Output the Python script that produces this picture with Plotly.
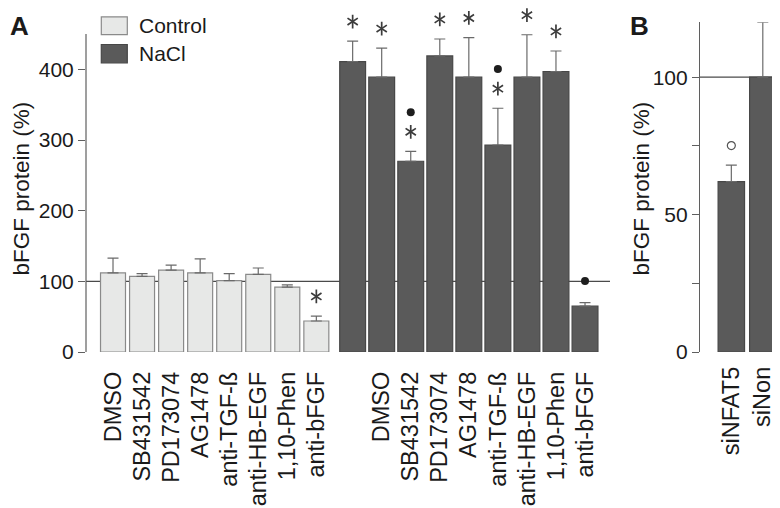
import plotly.graph_objects as go

# ---------------- data ----------------
treatments = ["DMSO", "SB431542", "PD173074", "AG1478", "anti-TGF-ß",
              "anti-HB-EGF", "1,10-Phen", "anti-bFGF"]
control_mean = [112, 107, 116, 112, 101, 110, 92, 44]
control_err = [21, 4, 7, 20, 10, 9, 3, 7]
control_star = [0, 0, 0, 0, 0, 0, 0, 1]

nacl_labels = [""] + treatments
nacl_mean = [411, 389, 270, 419, 389, 293, 389, 397, 65]
nacl_err = [29, 41, 14, 24, 56, 52, 60, 29, 5]
nacl_star = [1, 1, 1, 1, 1, 1, 1, 1, 0]
nacl_dot = [0, 0, 1, 0, 0, 1, 0, 0, 1]

b_labels = ["siNFAT5", "siNon"]
b_mean = [62, 100]
b_err = [6, 20]
b_circle = [1, 0]

a_ticks = [0, 100, 200, 300, 400]
b_ticks = [0, 25, 50, 75, 100]
b_ticktext = ["0", "", "50", "", "100"]

# ---------------- layout geometry ----------------
W, H = 780, 508
Y0_PIX = 351.7                      # pixel row of value 0 (both panels)
A_AXIS_MAX = 450                    # drawn extent of panel A axis line
A_SCALE = (Y0_PIX - 26.6) / A_AXIS_MAX   # px per unit
A_RANGE_MAX = 482                   # room for marks above the axis end
A_TOP_PIX = Y0_PIX - A_RANGE_MAX * A_SCALE
B_TOP_PIX, B_MAX = 14.5, 120
B_SCALE = (Y0_PIX - B_TOP_PIX) / B_MAX

GAP = 8.25
x_ctrl = list(range(len(control_mean)))
x_nacl = [GAP + i for i in range(len(nacl_mean))]
x_b = list(range(len(b_mean)))

FONT = "Liberation Sans, Arial, Helvetica, sans-serif"
CTRL_FILL = "#e7e8e7"
CTRL_LINE = "#8a8a8a"
NACL_FILL = "#5a5a5a"
NACL_LINE = "#474747"
ERR_COLOR = "#6a6a6a"
AXIS_COLOR = "#5f5f5f"
TXT = "#1a1a1a"
STAR_COLOR = "#3c3c3c"

fig = go.Figure()

def bars(x, y, err, fill, line, width, xa, ya, name):
    fig.add_trace(go.Bar(
        x=x, y=y, width=width, name=name,
        marker=dict(color=fill, line=dict(color=line, width=1.2)),
        error_y=dict(type="data", symmetric=False, array=err,
                     arrayminus=[0] * len(err), color=ERR_COLOR,
                     thickness=1.2, width=5.5),
        xaxis=xa, yaxis=ya, showlegend=False, cliponaxis=False))

bars(x_ctrl, control_mean, control_err, CTRL_FILL, CTRL_LINE, 0.86, "x", "y", "Control")
bars(x_nacl, nacl_mean, nacl_err, NACL_FILL, NACL_LINE, 0.89, "x", "y", "NaCl")
bars(x_b, b_mean, b_err, NACL_FILL, NACL_LINE, 0.84, "x2", "y2", "NaCl")

# ---------------- significance marks ----------------
star_x, star_y = [], []
dot_x, dot_y = [], []
for xi, m, e, s in zip(x_ctrl, control_mean, control_err, control_star):
    if s:
        star_x.append(xi); star_y.append(m + e + 20 / A_SCALE)
for xi, m, e, s, d in zip(x_nacl, nacl_mean, nacl_err, nacl_star, nacl_dot):
    if s:
        star_x.append(xi); star_y.append(m + e + 20 / A_SCALE)
    if d:
        dot_x.append(xi); dot_y.append(m + e + (40 if s else 22) / A_SCALE)

circ_x, circ_y = [], []
for xi, m, e, c in zip(x_b, b_mean, b_err, b_circle):
    if c:
        circ_x.append(xi); circ_y.append(m + e + 20 / B_SCALE)

for sym in ("y-up-open", "y-down-open"):
    fig.add_trace(go.Scatter(
        x=star_x, y=star_y, mode="markers", xaxis="x", yaxis="y",
        marker=dict(symbol=sym, size=8.6, color=STAR_COLOR,
                    line=dict(color=STAR_COLOR, width=1.7)),
        showlegend=False, hoverinfo="skip", cliponaxis=False))

fig.add_trace(go.Scatter(
    x=dot_x, y=dot_y, mode="markers", xaxis="x", yaxis="y",
    marker=dict(symbol="circle", size=8, color="#1e1e1e"),
    showlegend=False, hoverinfo="skip", cliponaxis=False))

fig.add_trace(go.Scatter(
    x=circ_x, y=circ_y, mode="markers", xaxis="x2", yaxis="y2",
    marker=dict(symbol="circle-open", size=8, color="#555555",
                line=dict(color="#555555", width=1.2)),
    showlegend=False, hoverinfo="skip", cliponaxis=False))

# ---------------- texts ----------------
annotations = []
for xp in (0, 620):
    annotations.append(dict(x=xp / W, y=(H - 185) / H, xref="paper", yref="paper",
                            text="bFGF protein (%)", textangle=-90, showarrow=False,
                            font=dict(family=FONT, size=22.5, color=TXT), borderpad=0,
                            xanchor="left", yanchor="middle"))
annotations.append(dict(x=0 / W, y=1 - 1 / H, xref="paper", yref="paper", text="<b>A</b>",
                        showarrow=False, xanchor="left", yanchor="top",
                        font=dict(family=FONT, size=26, color=TXT)))
annotations.append(dict(x=620 / W, y=1 - 1 / H, xref="paper", yref="paper", text="<b>B</b>",
                        showarrow=False, xanchor="left", yanchor="top",
                        font=dict(family=FONT, size=26, color=TXT)))
annotations.append(dict(x=129 / W, y=(H - 18) / H, xref="paper", yref="paper", text="Control",
                        showarrow=False, xanchor="left", yanchor="middle",
                        font=dict(family=FONT, size=21, color=TXT)))
annotations.append(dict(x=129 / W, y=(H - 47) / H, xref="paper", yref="paper", text="NaCl",
                        showarrow=False, xanchor="left", yanchor="middle",
                        font=dict(family=FONT, size=21, color=TXT)))

shapes = [
    # panel A axis line (ends below the top of the plotting range)
    dict(type="line", xref="x domain", yref="y", x0=0, x1=0, y0=0, y1=A_AXIS_MAX,
         line=dict(color=AXIS_COLOR, width=1.2)),
    dict(type="line", xref="x domain", yref="y", x0=0, x1=1, y0=100, y1=100,
         line=dict(color="#4a4a4a", width=1.2), layer="below"),
    dict(type="line", xref="x2 domain", yref="y2", x0=0, x1=1, y0=100, y1=100,
         line=dict(color="#4a4a4a", width=1.2), layer="below"),
    dict(type="rect", xref="paper", yref="paper", x0=93.3 / W, x1=119.3 / W,
         y0=(H - 27.3) / H, y1=(H - 9) / H,
         fillcolor=CTRL_FILL, line=dict(color=CTRL_LINE, width=1.2)),
    dict(type="rect", xref="paper", yref="paper", x0=93.3 / W, x1=119.3 / W,
         y0=(H - 56) / H, y1=(H - 37.3) / H,
         fillcolor=NACL_FILL, line=dict(color=NACL_LINE, width=1.2)),
]

fig.update_layout(
    width=W, height=H,
    margin=dict(l=0, r=0, t=0, b=0),
    paper_bgcolor="white", plot_bgcolor="white",
    font=dict(family=FONT, size=20, color=TXT),
    barmode="overlay",
    annotations=annotations, shapes=shapes,
    xaxis=dict(domain=[78 / W, 602 / W], range=[-0.93, 17.11],
               tickvals=x_ctrl + x_nacl, ticktext=treatments + nacl_labels,
               tickangle=-90, ticks="", showline=False, showgrid=False, zeroline=False,
               tickfont=dict(family=FONT, size=23.5, color=TXT), ticklabelstandoff=14,
               anchor="y", fixedrange=True),
    yaxis=dict(domain=[(H - Y0_PIX) / H, (H - A_TOP_PIX) / H], range=[0, A_RANGE_MAX],
               tickvals=a_ticks, ticks="outside", ticklen=7, tickcolor=AXIS_COLOR,
               showline=False, showgrid=False, zeroline=False,
               tickfont=dict(family=FONT, size=21, color=TXT),
               anchor="x", fixedrange=True),
    xaxis2=dict(domain=[692 / W, 1.0], range=[-0.995, 1.8],
                tickvals=x_b, ticktext=b_labels, tickangle=-90, ticks="",
                showline=False, showgrid=False, zeroline=False,
                tickfont=dict(family=FONT, size=23.5, color=TXT), ticklabelstandoff=9,
                anchor="y2", fixedrange=True),
    yaxis2=dict(domain=[(H - Y0_PIX) / H, (H - B_TOP_PIX) / H], range=[0, B_MAX],
                tickvals=b_ticks, ticktext=b_ticktext, ticks="outside", ticklen=7,
                tickcolor=AXIS_COLOR, showline=True, linecolor=AXIS_COLOR, linewidth=1.2,
                showgrid=False, zeroline=False,
                tickfont=dict(family=FONT, size=21, color=TXT),
                anchor="x2", fixedrange=True),
)

fig.write_html("out.html", config={"displayModeBar": False})
